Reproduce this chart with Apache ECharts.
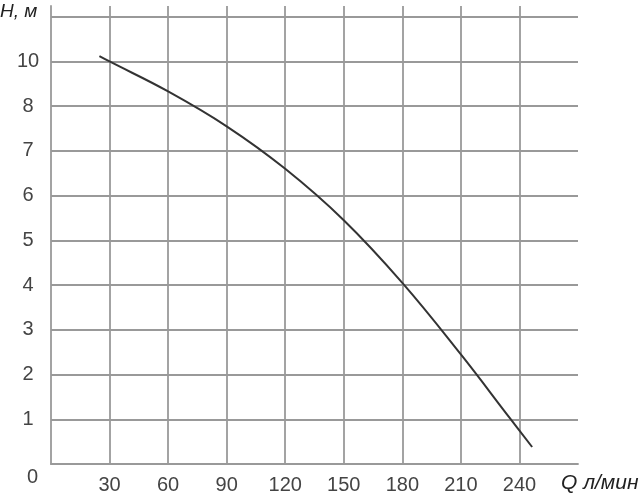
<!DOCTYPE html>
<html>
<head>
<meta charset="utf-8">
<script src="https://cdn.jsdelivr.net/npm/echarts@6/dist/echarts.min.js"></script>
<style>
  html, body { margin: 0; padding: 0; background: #fff; }
  #chart { width: 642px; height: 500px; }
</style>
</head>
<body>
<div id="chart"></div>
<script>
// Flow Q (л/мин) and head H (м)
var flowQ = [24.8, 30, 60, 90, 120, 150, 180, 210, 235, 246.5];
var headH = [9.12, 9.0, 8.33, 7.55, 6.6, 5.45, 4.05, 2.45, 1.03, 0.38];
// Tick labels as printed in the reference (index = tick value / step)
var xTickLabels = ['', '30', '60', '90', '120', '150', '180', '210', '240', ''];
var yTickLabels = ['', '1', '2', '3', '4', '5', '6', '7', '8', '10', ''];
var xAxisTitle = 'Q л/мин';
var yAxisTitle = 'H, м';
var originLabel = '0';

var gridColor = '#999999';
var textColor = '#444444';
var fontFam = '"Liberation Sans", Arial, sans-serif';

var chart = echarts.init(document.getElementById('chart'), null, { renderer: 'canvas' });
var pts = flowQ.map(function (q, i) { return [q, headH[i]]; });

chart.setOption({
  animation: false,
  backgroundColor: '#ffffff',
  grid: { left: 51, right: 64, top: 6, bottom: 36 },
  xAxis: {
    type: 'value', min: 0, max: 270, interval: 30,
    axisLine: { show: true, lineStyle: { color: gridColor, width: 1.8 } },
    axisTick: { show: false },
    splitLine: { show: true, showMinLine: false, showMaxLine: false, lineStyle: { color: gridColor, width: 1.8 } },
    axisLabel: {
      margin: 11, fontSize: 20, color: textColor, fontFamily: fontFam,
      showMinLabel: false, showMaxLabel: false,
      formatter: function (v) { var l = xTickLabels[Math.round(v / 30)]; return l === undefined ? '' : l; }
    }
  },
  yAxis: {
    type: 'value', min: 0, max: 10.24, interval: 1,
    axisLine: { show: true, lineStyle: { color: gridColor, width: 1.8 } },
    axisTick: { show: false },
    splitLine: { show: true, showMinLine: false, showMaxLine: false, lineStyle: { color: gridColor, width: 1.8 } },
    axisLabel: {
      margin: 23, fontSize: 20, color: textColor, fontFamily: fontFam, align: 'center',
      showMinLabel: false, showMaxLabel: false,
      formatter: function (v) { var l = yTickLabels[Math.round(v)]; return l === undefined ? '' : l; }
    }
  },
  graphic: [
    { type: 'text', left: 0, top: 2, style: { text: yAxisTitle, font: 'italic 19px ' + fontFam, fill: '#222' } },
    { type: 'text', left: 561, top: 473, style: { text: xAxisTitle, font: 'italic 21px ' + fontFam, fill: '#222' } },
    { type: 'text', left: 27, top: 467, style: { text: originLabel, font: '20px ' + fontFam, fill: textColor } }
  ],
  series: [{
    type: 'line',
    data: pts,
    smooth: 0.4,
    showSymbol: false,
    lineStyle: { color: '#333333', width: 2 }
  }]
});
</script>
</body>
</html>
